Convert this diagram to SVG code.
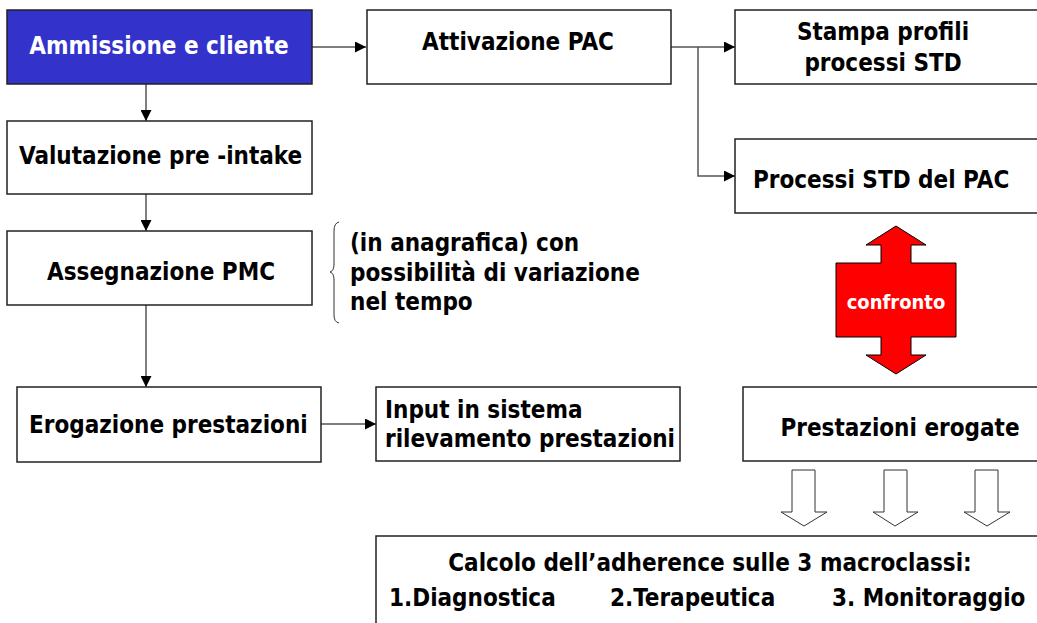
<svg xmlns="http://www.w3.org/2000/svg" width="1037" height="623" viewBox="0 0 1037 623">
  <style>
    .box { fill: #ffffff; stroke: #222222; stroke-width: 1.5; }
    .lbl { font-family: "DejaVu Sans Condensed", "DejaVu Sans", sans-serif; font-stretch: condensed; font-weight: bold; font-size: 24px; fill: #000000; }
    .mid { text-anchor: middle; }
    .wire { fill: none; stroke: #555555; stroke-width: 1.5; }
    .hollow { fill: #ffffff; stroke: #333333; stroke-width: 1; }
  </style>
  <defs>
    <marker id="head" markerUnits="userSpaceOnUse" markerWidth="11" markerHeight="11" refX="11" refY="5.5" orient="auto">
      <path d="M0,0 L11,5.5 L0,11 z" fill="#000000"/>
    </marker>
  </defs>
  <rect width="1037" height="623" fill="#ffffff"/>

  <!-- connectors -->
  <g id="connectors">
    <line class="wire" x1="312" y1="47" x2="366" y2="47" marker-end="url(#head)"/>
    <line class="wire" x1="146" y1="84" x2="146" y2="121" marker-end="url(#head)"/>
    <line class="wire" x1="146" y1="194" x2="146" y2="231" marker-end="url(#head)"/>
    <line class="wire" x1="146" y1="305" x2="146" y2="387" marker-end="url(#head)"/>
    <line class="wire" x1="321" y1="424" x2="376" y2="424" marker-end="url(#head)"/>
    <line class="wire" x1="671" y1="47" x2="735" y2="47" marker-end="url(#head)"/>
    <polyline class="wire" points="698,47 698,176 735,176" marker-end="url(#head)"/>
  </g>

  <g id="ammissione">
    <rect x="7" y="10" width="305" height="74" fill="#3333cc" stroke="#222222" stroke-width="1.5"/>
    <text class="lbl mid" x="159" y="54" fill="#ffffff" style="fill:#ffffff">Ammissione e cliente</text>
  </g>

  <g id="valutazione">
    <rect class="box" x="7" y="121" width="305" height="73"/>
    <text class="lbl" x="19" y="164">Valutazione pre -intake</text>
  </g>

  <g id="assegnazione">
    <rect class="box" x="7" y="231" width="305" height="74"/>
    <text class="lbl mid" x="161" y="280">Assegnazione PMC</text>
  </g>

  <g id="nota-pmc">
    <path d="M339,222 Q334,223 334,231 L334,264 Q334,271 330,272 Q334,273 334,280 L334,315 Q334,322 339,323" fill="none" stroke="#333333" stroke-width="1"/>
    <text class="lbl" x="350" y="251">(in anagrafica) con</text>
    <text class="lbl" x="350" y="281">possibilità di variazione</text>
    <text class="lbl" x="350" y="310">nel tempo</text>
  </g>

  <g id="erogazione">
    <rect class="box" x="17" y="387" width="304" height="75"/>
    <text class="lbl" x="29" y="433">Erogazione prestazioni</text>
  </g>

  <g id="input-sistema">
    <rect class="box" x="376" y="387" width="304" height="74"/>
    <text class="lbl" x="385" y="418">Input in sistema</text>
    <text class="lbl" x="385" y="447">rilevamento prestazioni</text>
  </g>

  <g id="attivazione">
    <rect class="box" x="367" y="10" width="304" height="74"/>
    <text class="lbl mid" x="518" y="50">Attivazione PAC</text>
  </g>

  <g id="stampa">
    <rect class="box" x="735" y="10" width="310" height="74"/>
    <text class="lbl mid" x="883" y="40">Stampa profili</text>
    <text class="lbl mid" x="883" y="71">processi STD</text>
  </g>

  <g id="processi-std">
    <rect class="box" x="735" y="139" width="310" height="74"/>
    <text class="lbl" x="753" y="188">Processi STD del PAC</text>
  </g>

  <g id="confronto">
    <polygon points="896,226 926,245 911,245 911,263 956,263 956,337 911,337 911,355 926,355 896,374 866,355 881,355 881,337 836,337 836,263 881,263 881,245 866,245" fill="#ff0000" stroke="#000000" stroke-width="1"/>
    <text class="lbl mid" x="896" y="309" style="font-size:20px;fill:#ffffff">confronto</text>
  </g>

  <g id="prestazioni-erogate">
    <rect class="box" x="743" y="387" width="300" height="74"/>
    <text class="lbl mid" x="900" y="436">Prestazioni erogate</text>
  </g>

  <g id="frecce-macroclassi">
    <polygon class="hollow" points="792,470 815,470 815,512 827,512 804,526 781,512 792,512"/>
    <polygon class="hollow" points="884,470 907,470 907,512 918,512 895,526 873,512 884,512"/>
    <polygon class="hollow" points="975,470 998,470 998,512 1010,512 987,526 964,512 975,512"/>
  </g>

  <g id="adherence">
    <rect class="box" x="376" y="536" width="670" height="100"/>
    <text class="lbl mid" x="710" y="571">Calcolo dell’adherence sulle 3 macroclassi:</text>
    <text class="lbl" x="389" y="606">1.Diagnostica</text>
    <text class="lbl" x="610" y="606">2.Terapeutica</text>
    <text class="lbl" x="832" y="606">3. Monitoraggio</text>
  </g>
</svg>
